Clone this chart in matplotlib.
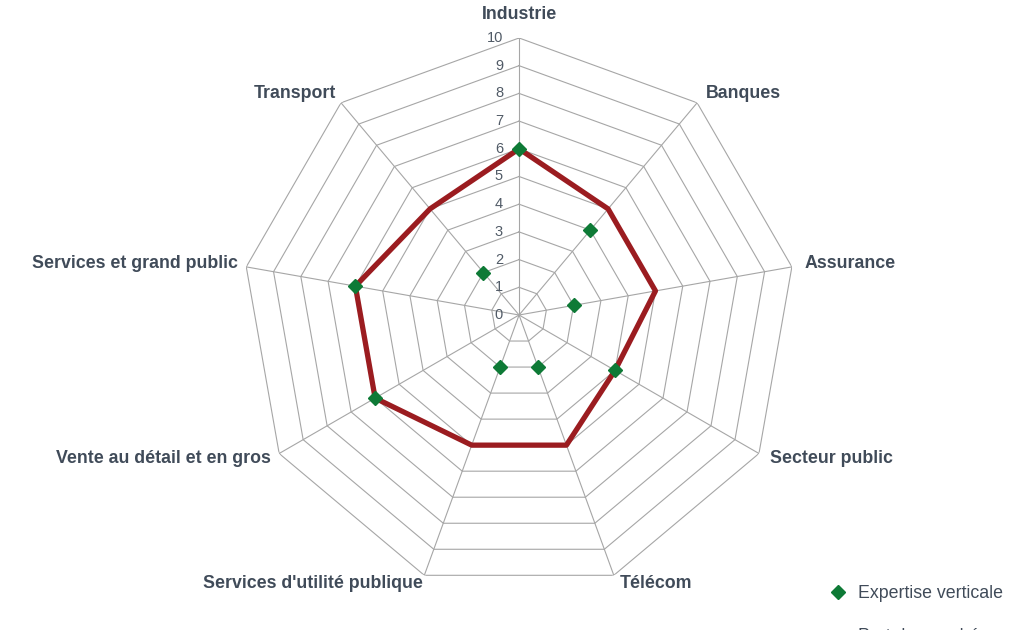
"""
Radar chart: expertise verticale vs part de marché par secteur.
"""

import numpy as np
import matplotlib
matplotlib.use('Agg')
import matplotlib.pyplot as plt

plt.rcParams['font.family'] = ['Liberation Sans', 'DejaVu Sans']

# * Data
categories = ['Industrie', 'Banques', 'Assurance', 'Secteur public', 'Télécom',
              "Services d'utilité publique", 'Vente au détail et en gros',
              'Services et grand public', 'Transport']
expertise = [6, 4, 2, 4, 2, 2, 6, 6, 2]
part_marche = [6, 5, 5, 4, 5, 5, 6, 6, 5]
levels = list(range(0, 11))

# * Label offsets in pixels from each outer vertex, plus alignment
label_pos = [((0, 23), 'center'), ((9, 9), 'left'), ((13, 3), 'left'),
             ((11, -5), 'left'), ((6, -8), 'left'), ((-1, -8), 'right'),
             ((-8, -5), 'right'), ((-8, 3), 'right'), ((-5, 9), 'right')]

text_col = '#404b59'
grid_col = '#a6a6a6'

n = len(categories)
angles = np.linspace(0, 2 * np.pi, n, endpoint=False)
closed = np.append(angles, angles[0])

fig = plt.figure(figsize=(10.14, 6.3), dpi=100)
ax = fig.add_axes([0.2387, 0.0603, 0.5464, 0.8794], projection='polar')
ax.set_theta_zero_location('N')
ax.set_theta_direction(-1)
ax.set_ylim(0, 10)
ax.grid(False)
ax.spines['polar'].set_visible(False)
ax.set_xticks([])
ax.set_yticks([])

# * Polygon grid and spokes
for lv in levels[1:]:
    ax.plot(closed, [lv] * (n + 1), color=grid_col, lw=0.8, zorder=1)
for a in angles:
    ax.plot([a, a], [0, 10], color=grid_col, lw=0.8, zorder=1)

# * Radial tick labels
for lv in levels:
    ax.annotate(str(lv), xy=(0, lv), xytext=(-16, 0), textcoords='offset pixels',
                ha='right', va='center', fontsize=10.5, color='#505a66')

# * Category labels
for a, cat, (off, ha) in zip(angles, categories, label_pos):
    ax.annotate(cat, xy=(a, 10), xytext=off, textcoords='offset pixels',
                ha=ha, va='center', fontsize=12.8, fontweight='bold',
                color=text_col, annotation_clip=False)

# * Series
ax.plot(closed, np.append(part_marche, part_marche[0]), color='#9b1c20', lw=3.8,
        zorder=3, label='Part de marché')
ax.plot(angles, expertise, linestyle='none', marker='D', markersize=7,
        color='#0e7a36', zorder=4, label='Expertise verticale')

handles, labels = ax.get_legend_handles_labels()
fig.legend(handles[::-1], labels[::-1], loc='upper left',
           bbox_to_anchor=(0.802, 0.097), frameon=False, fontsize=12.8,
           labelcolor=text_col, handlelength=1.0, labelspacing=1.45,
           handletextpad=0.6)

fig.savefig('out.png', dpi=100)
